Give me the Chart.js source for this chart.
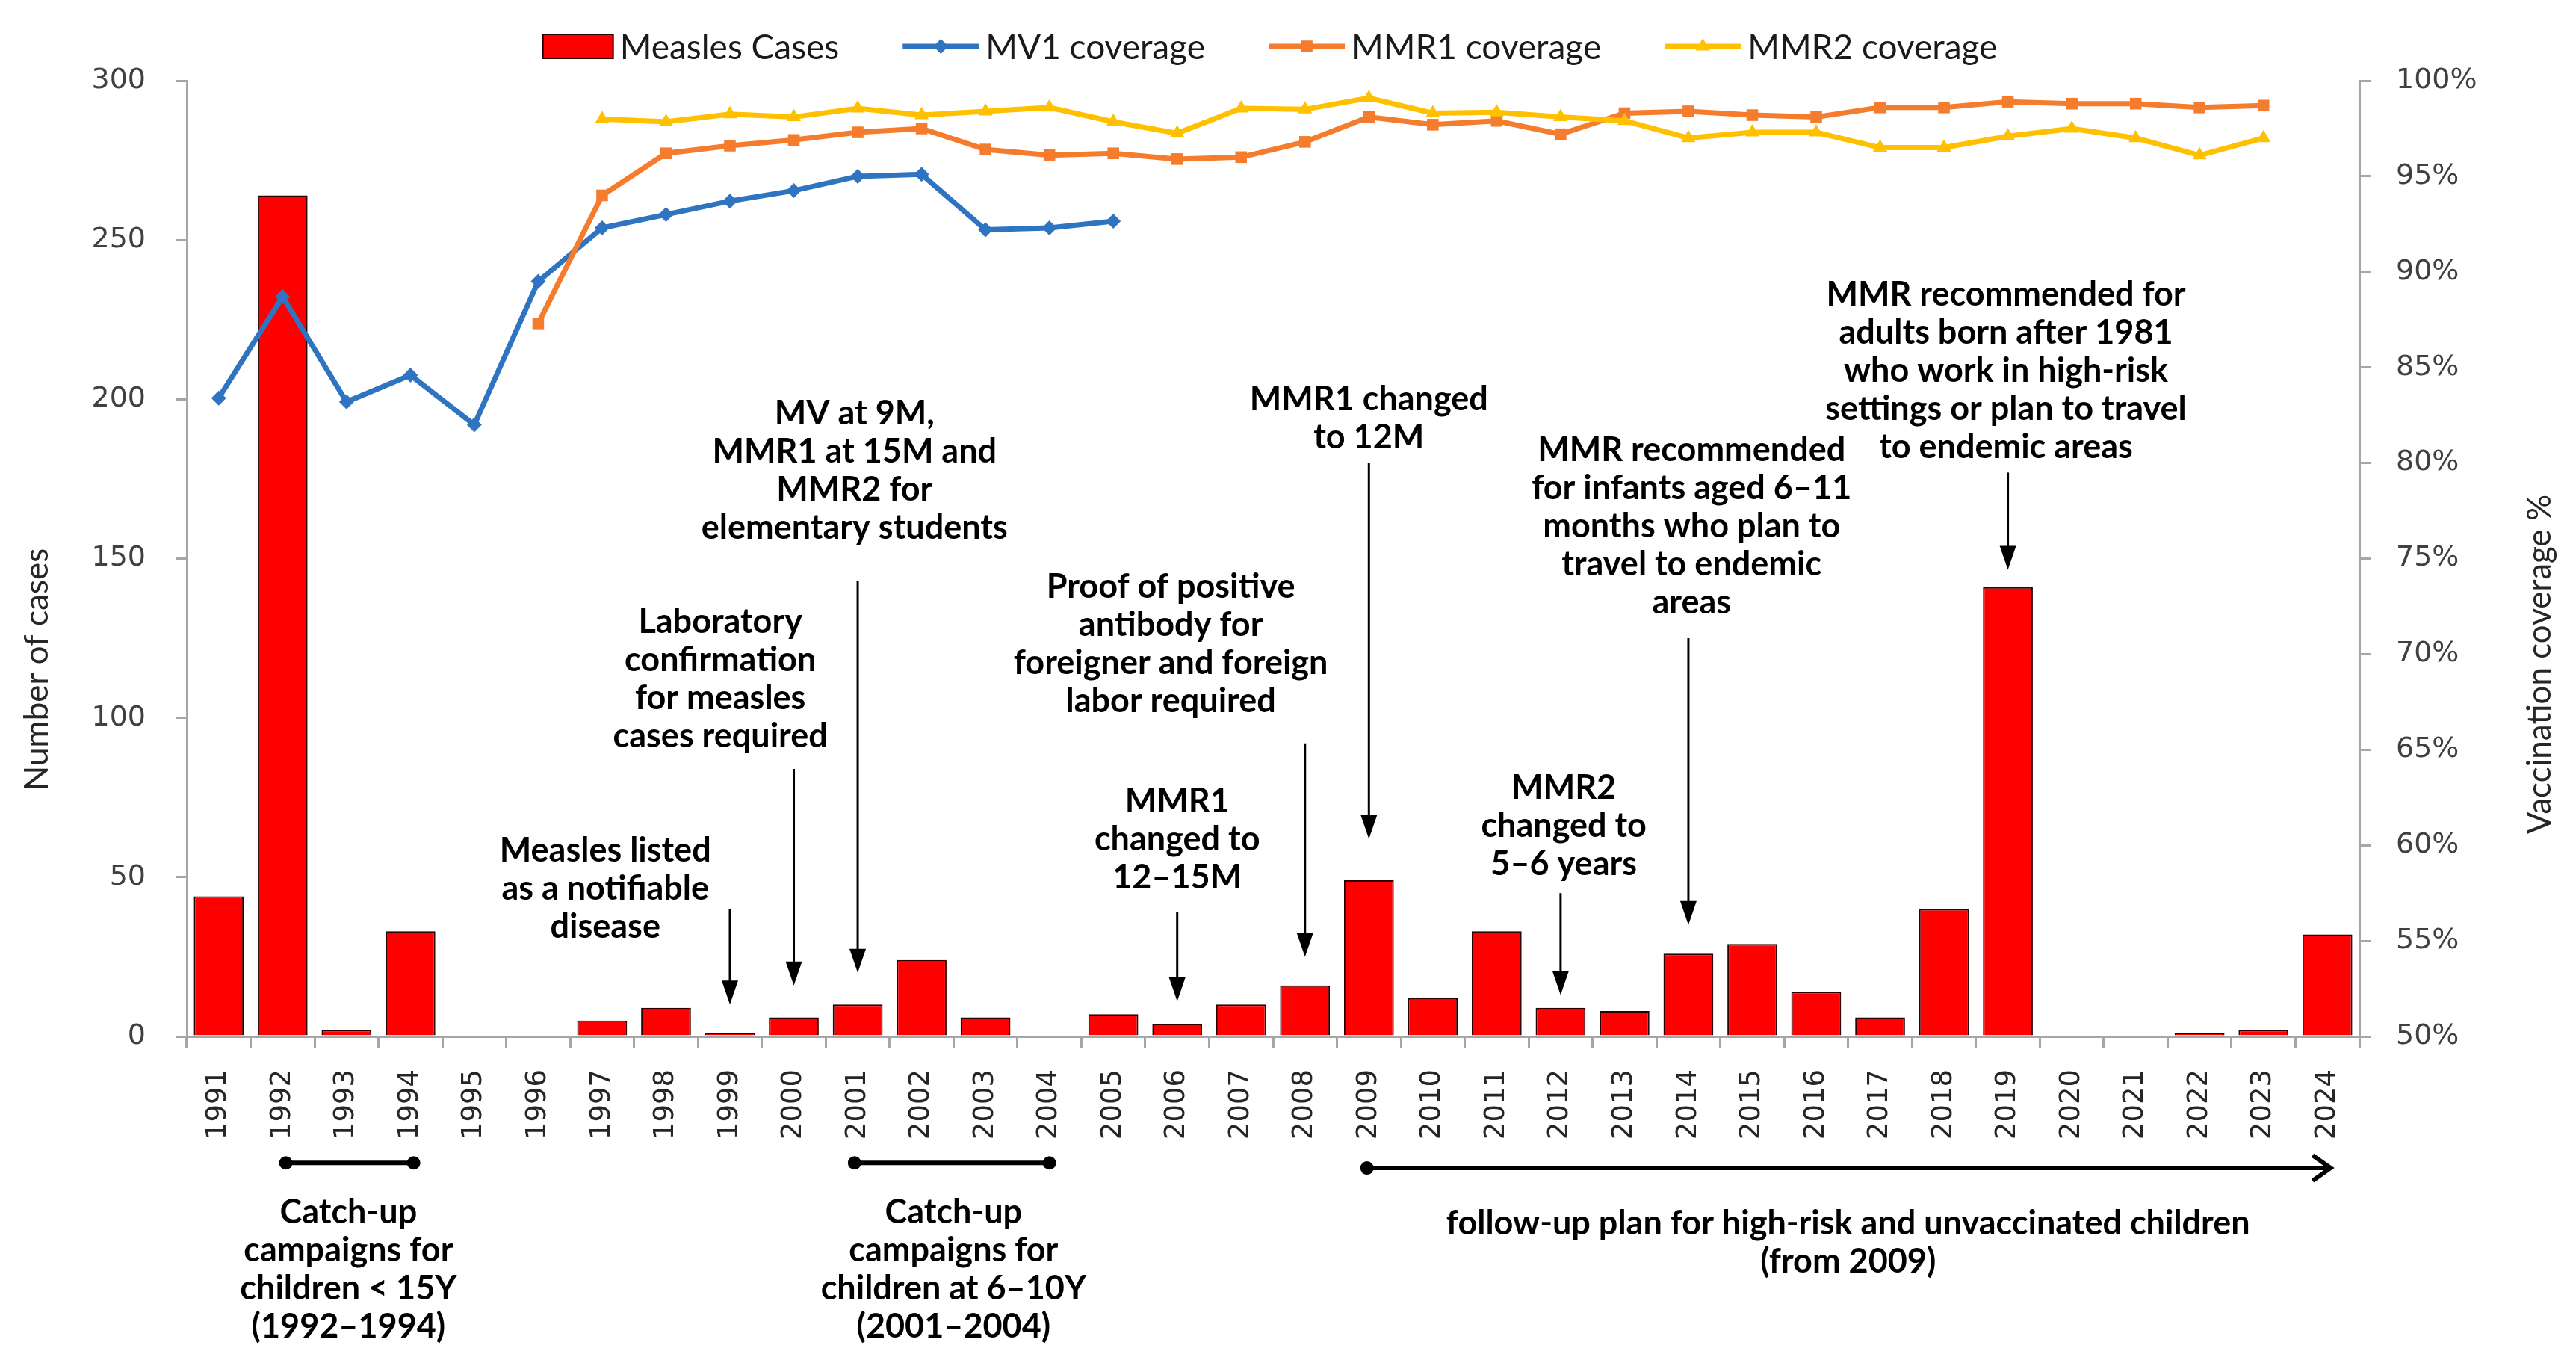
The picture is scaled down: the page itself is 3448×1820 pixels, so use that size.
<!DOCTYPE html>
<html>
<head>
<meta charset="utf-8">
<script src="https://cdn.jsdelivr.net/npm/chart.js@4.4.1/dist/chart.umd.min.js"></script>
<style>
    html, body { margin: 0; padding: 0; background: #fff; }
    #wrap { width: 3448px; height: 1820px; }
</style>
</head>
<body>
<div id="wrap"><canvas id="chart" width="3448" height="1820"></canvas></div>
<script>
// Données
const years = ['1991', '1992', '1993', '1994', '1995', '1996', '1997', '1998', '1999', '2000',
    '2001', '2002', '2003', '2004', '2005', '2006', '2007', '2008', '2009', '2010',
    '2011', '2012', '2013', '2014', '2015', '2016', '2017', '2018', '2019', '2020',
    '2021', '2022', '2023', '2024'];

const measlesCases = [44, 264, 2, 33, 0, 0, 5, 9, 1, 6,
    10, 24, 6, 0, 7, 4, 10, 16, 49, 12,
    33, 9, 8, 26, 29, 14, 6, 40, 141, 0,
    0, 1, 2, 32];

const mv1Coverage = [83.4, 88.7, 83.2, 84.6, 82.0, 89.5, 92.3, 93.0, 93.7, 94.25,
    95.0, 95.1, 92.2, 92.3, 92.65, null, null, null, null, null,
    null, null, null, null, null, null, null, null, null, null,
    null, null, null, null];

const mmr1Coverage = [null, null, null, null, null, 87.3, 94.0, 96.2, 96.6, 96.9,
    97.3, 97.5, 96.4, 96.1, 96.2, 95.9, 96.0, 96.8, 98.1, 97.7,
    97.9, 97.2, 98.3, 98.4, 98.2, 98.1, 98.6, 98.6, 98.9, 98.8,
    98.8, 98.6, 98.7, null];

const mmr2Coverage = [null, null, null, null, null, null, 98.0, 97.85, 98.25, 98.1,
    98.55, 98.2, 98.4, 98.6, 97.85, 97.25, 98.55, 98.5, 99.1, 98.3,
    98.35, 98.1, 97.9, 97.0, 97.3, 97.3, 96.5, 96.5, 97.1, 97.5,
    97.0, 96.1, 97.0, null];

const caseTicks = [0, 50, 100, 150, 200, 250, 300];
const coverageTicks = [50, 55, 60, 65, 70, 75, 80, 85, 90, 95, 100];

// Annotations (x = index de l'année, y = nombre de cas)
const notes = [
    { lines: ['Measles listed', 'as a notifiable', 'disease'], x: 6.05, y: 58.3, arrow: { x: 8, from: 40, to: 10 } },
    { lines: ['Laboratory', 'confirmation', 'for measles', 'cases required'], x: 7.85, y: 130, arrow: { x: 9, from: 84, to: 16 } },
    { lines: ['MV at 9M,', 'MMR1 at 15M and', 'MMR2 for', 'elementary students'], x: 9.95, y: 195.4, arrow: { x: 10, from: 143, to: 20 } },
    { lines: ['MMR1', 'changed to', '12–15M'], x: 15, y: 73.8, arrow: { x: 15, from: 39, to: 11 } },
    { lines: ['Proof of positive', 'antibody for', 'foreigner and foreign', 'labor required'], x: 14.9, y: 141, arrow: { x: 17, from: 92, to: 25 } },
    { lines: ['MMR1 changed', 'to 12M'], x: 18, y: 200, arrow: { x: 18, from: 180, to: 62 } },
    { lines: ['MMR2', 'changed to', '5–6 years'], x: 21.05, y: 78, arrow: { x: 21, from: 45, to: 13 } },
    { lines: ['MMR recommended', 'for infants aged 6–11', 'months who plan to', 'travel to endemic', 'areas'], x: 23.05, y: 184, arrow: { x: 23, from: 125, to: 35 } },
    { lines: ['MMR recommended for', 'adults born after 1981', 'who work in high-risk', 'settings or plan to travel', 'to endemic areas'], x: 27.97, y: 232.8, arrow: { x: 28, from: 177, to: 146.5 } }
];

const periods = [
    { from: 1.05, to: 3.05, y: -39.7, end: 'dot', x: 2.03, ty: -55.2, lines: ['Catch-up', 'campaigns for', 'children < 15Y', '(1992–1994)'] },
    { from: 9.95, to: 13.0, y: -39.7, end: 'dot', x: 11.5, ty: -55.2, lines: ['Catch-up', 'campaigns for', 'children at 6–10Y', '(2001–2004)'] },
    { from: 17.97, to: 33.05, y: -41.3, end: 'arrow', x: 25.5, ty: -58.7, lines: ['follow-up plan for high-risk and unvaccinated children', '(from 2009)'] }
];

const BLUE = '#2F74C0';
const ORANGE = '#F47C2C';
const YELLOW = '#FFC000';
const RED = '#FF0000';
const AXIS_GREY = '#A6A6A6';
const LINE_H = 51;

// ==================== DESSIN ====================

function drawArrow(ctx, ax, yTop, yTip) {
    ctx.strokeStyle = '#000';
    ctx.fillStyle = '#000';
    ctx.lineWidth = 3;
    ctx.beginPath();
    ctx.moveTo(ax, yTop);
    ctx.lineTo(ax, yTip - 30);
    ctx.stroke();
    ctx.beginPath();
    ctx.moveTo(ax - 11, yTip - 32);
    ctx.lineTo(ax + 11, yTip - 32);
    ctx.lineTo(ax, yTip);
    ctx.closePath();
    ctx.fill();
}

function drawLegend(chart) {
    const ctx = chart.ctx;
    const items = chart.data.datasets.slice().sort((a, b) => a.legendIndex - b.legendIndex);
    ctx.font = '46px Lato';
    ctx.textBaseline = 'middle';
    ctx.textAlign = 'left';
    const gap = 85;
    const symW = ds => (ds.type === 'bar' ? 94 : 102);
    const widths = items.map(ds => symW(ds) + 9 + ctx.measureText(ds.label).width);
    const total = widths.reduce((s, w) => s + w, 0) + gap * (items.length - 1);
    let cx = 1700 - total / 2;
    const cy = 62;
    items.forEach((ds, i) => {
        if (ds.type === 'bar') {
            ctx.fillStyle = ds.backgroundColor;
            ctx.fillRect(cx, cy - 16, 94, 32);
            ctx.strokeStyle = ds.borderColor;
            ctx.lineWidth = 2;
            ctx.strokeRect(cx, cy - 16, 94, 32);
        } else {
            ctx.strokeStyle = ds.borderColor;
            ctx.lineWidth = ds.borderWidth;
            ctx.beginPath();
            ctx.moveTo(cx, cy);
            ctx.lineTo(cx + 102, cy);
            ctx.stroke();
            ctx.fillStyle = ds.pointBackgroundColor;
            Chart.helpers.drawPoint(ctx, {
                pointStyle: ds.pointStyle, radius: ds.pointRadius, borderWidth: 0, rotation: 0
            }, cx + 51, cy);
        }
        ctx.fillStyle = '#1a1a1a';
        ctx.fillText(ds.label, cx + symW(ds) + 9, cy + 2);
        cx += widths[i] + gap;
    });
}

const notesPlugin = {
    id: 'notes',
    afterDraw(chart) {
        const { ctx, scales: { x, y } } = chart;
        ctx.save();

        drawLegend(chart);

        // Titres des axes
        ctx.font = '44px Lato';
        ctx.fillStyle = '#262626';
        ctx.textAlign = 'center';
        ctx.textBaseline = 'middle';
        ctx.save();
        ctx.translate(50, 896);
        ctx.rotate(-Math.PI / 2);
        ctx.fillText('Number of cases', 0, 0);
        ctx.restore();
        ctx.save();
        ctx.translate(3400, 889);
        ctx.rotate(-Math.PI / 2);
        ctx.fillText('Vaccination coverage %', 0, 0);
        ctx.restore();

        // Textes + flèches
        ctx.font = 'bold 45px Lato';
        notes.forEach(n => {
            const cx = x.getPixelForValue(n.x);
            const cy = y.getPixelForValue(n.y);
            ctx.fillStyle = '#000';
            n.lines.forEach((t, i) => ctx.fillText(t, cx, cy + i * LINE_H));
            drawArrow(ctx, x.getPixelForValue(n.arrow.x), y.getPixelForValue(n.arrow.from), y.getPixelForValue(n.arrow.to));
        });

        // Périodes sous l'axe
        periods.forEach(p => {
            const x1 = x.getPixelForValue(p.from);
            const x2 = x.getPixelForValue(p.to);
            const py = y.getPixelForValue(p.y);
            ctx.strokeStyle = '#000';
            ctx.fillStyle = '#000';
            ctx.lineWidth = 6;
            ctx.beginPath();
            ctx.moveTo(x1, py);
            ctx.lineTo(p.end === 'arrow' ? x2 - 4 : x2, py);
            ctx.stroke();
            ctx.beginPath();
            ctx.arc(x1, py, 9, 0, Math.PI * 2);
            ctx.fill();
            if (p.end === 'dot') {
                ctx.beginPath();
                ctx.arc(x2, py, 9, 0, Math.PI * 2);
                ctx.fill();
            } else {
                ctx.lineJoin = 'miter';
                ctx.beginPath();
                ctx.moveTo(x2 - 24, py - 17);
                ctx.lineTo(x2, py);
                ctx.lineTo(x2 - 24, py + 17);
                ctx.stroke();
            }
            const tx = x.getPixelForValue(p.x);
            const ty = y.getPixelForValue(p.ty);
            p.lines.forEach((t, i) => ctx.fillText(t, tx, ty + i * LINE_H));
        });

        ctx.restore();
    }
};

// ==================== GRAPHIQUE ====================

const ctx = document.getElementById('chart').getContext('2d');
new Chart(ctx, {
    type: 'bar',
    data: {
        labels: years,
        datasets: [
            {
                type: 'line', label: 'MMR2 coverage', legendIndex: 3, data: mmr2Coverage, yAxisID: 'y1',
                borderColor: YELLOW, backgroundColor: YELLOW, pointBackgroundColor: YELLOW,
                borderWidth: 7, pointStyle: 'triangle', pointRadius: 11, pointBorderWidth: 0,
                tension: 0, order: 1
            },
            {
                type: 'line', label: 'MMR1 coverage', legendIndex: 2, data: mmr1Coverage, yAxisID: 'y1',
                borderColor: ORANGE, backgroundColor: ORANGE, pointBackgroundColor: ORANGE,
                borderWidth: 7, pointStyle: 'rect', pointRadius: 11, pointBorderWidth: 0,
                tension: 0, order: 2
            },
            {
                type: 'line', label: 'MV1 coverage', legendIndex: 1, data: mv1Coverage, yAxisID: 'y1',
                borderColor: BLUE, backgroundColor: BLUE, pointBackgroundColor: BLUE,
                borderWidth: 7, pointStyle: 'rectRot', pointRadius: 10, pointBorderWidth: 0,
                tension: 0, order: 3
            },
            {
                type: 'bar', label: 'Measles Cases', legendIndex: 0, data: measlesCases, yAxisID: 'y',
                backgroundColor: RED, borderColor: '#2a0000', borderWidth: 2,
                barPercentage: 0.78, categoryPercentage: 1, order: 4
            }
        ]
    },
    options: {
        responsive: false,
        devicePixelRatio: 1,
        animation: false,
        layout: { padding: { left: 50, right: 90, top: 108, bottom: 283 } },
        plugins: {
            legend: { display: false },
            tooltip: { enabled: false }
        },
        scales: {
            x: {
                offset: true,
                afterFit: (scale) => { scale.height = 150; },
                border: { color: AXIS_GREY, width: 3 },
                grid: { offset: true, drawOnChartArea: false, drawTicks: true, tickLength: 16, color: AXIS_GREY, lineWidth: 3 },
                ticks: {
                    minRotation: 90, maxRotation: 90, autoSkip: false, padding: 28,
                    color: '#262626', font: { family: 'DejaVu Sans', size: 37 }
                }
            },
            y: {
                position: 'left', min: 0, max: 300,
                afterFit: (scale) => { scale.width = 200; },
                afterBuildTicks: (scale) => { scale.ticks = caseTicks.map(v => ({ value: v })); },
                border: { color: AXIS_GREY, width: 3 },
                grid: { drawOnChartArea: false, drawTicks: true, tickLength: 15, color: AXIS_GREY, lineWidth: 3 },
                ticks: { padding: 40, color: '#404040', font: { family: 'DejaVu Sans', size: 38 } }
            },
            y1: {
                position: 'right', min: 50, max: 100,
                afterFit: (scale) => { scale.width = 200; },
                afterBuildTicks: (scale) => { scale.ticks = coverageTicks.map(v => ({ value: v })); },
                border: { color: AXIS_GREY, width: 3 },
                grid: { drawOnChartArea: false, drawTicks: true, tickLength: 15, color: AXIS_GREY, lineWidth: 3 },
                ticks: {
                    padding: 34, color: '#404040', font: { family: 'DejaVu Sans', size: 38 },
                    callback: (v) => v + '%'
                }
            }
        }
    },
    plugins: [notesPlugin]
});
</script>
</body>
</html>
